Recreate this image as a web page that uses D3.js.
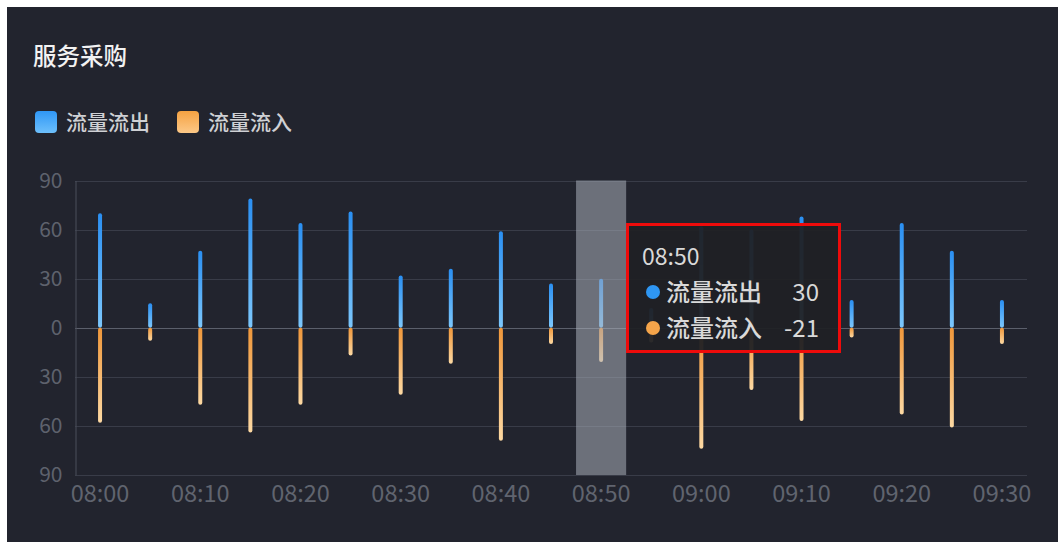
<!DOCTYPE html>
<html>
<head>
<meta charset="utf-8">
<script src="https://cdn.jsdelivr.net/npm/d3@7"></script>
<style>
  html, body { margin: 0; padding: 0; background: #ffffff; }
  svg { display: block; }
  text { font-family: "Noto Sans CJK SC", "Noto Sans", sans-serif; }
</style>
</head>
<body>
<svg id="chart" width="1058" height="542"></svg>
<script>
// Five-minute time slots
const categories = ["08:00","08:05","08:10","08:15","08:20","08:25","08:30","08:35","08:40","08:45",
                    "08:50","08:55","09:00","09:05","09:10","09:15","09:20","09:25","09:30"];
// Outbound traffic (positive side)
const outflow = [70, 15, 47, 79, 64, 71, 32, 36, 59, 27, 30, 12, 62, 60, 68, 17, 64, 47, 17];
// Inbound traffic (negative side)
const inflow  = [-58, -8, -47, -64, -47, -17, -41, -22, -69, -10, -21, -9, -74, -38, -57, -6, -53, -61, -10];
const seriesNames = ["流量流出", "流量流入"];
const yTicks = [-90, -60, -30, 0, 30, 60, 90];
const xTickLabels = ["08:00","08:10","08:20","08:30","08:40","08:50","09:00","09:10","09:20","09:30"];
const activeSlot = "08:50";

const svg = d3.select("#chart");
const W = 1058, H = 542;

// card background
svg.append("rect").attr("x", 7).attr("y", 7).attr("width", W - 7).attr("height", H - 7)
  .attr("fill", "#22242e");

const defs = svg.append("defs");
function vGrad(id, top, bottom) {
  const g = defs.append("linearGradient").attr("id", id)
    .attr("x1", 0).attr("y1", 0).attr("x2", 0).attr("y2", 1);
  g.append("stop").attr("offset", "0%").attr("stop-color", top);
  g.append("stop").attr("offset", "100%").attr("stop-color", bottom);
}
vGrad("gOut", "#2a8ff2", "#7cc7fc");
vGrad("gIn", "#f0973a", "#fdd9a3");
vGrad("gOutLeg", "#2f97f6", "#6dbffb");
vGrad("gInLeg", "#f5a242", "#fcc887");

// title
svg.append("text").attr("x", 33).attr("y", 65)
  .attr("font-size", 23.5).attr("fill", "#f2f2f2").attr("font-weight", 500)
  .text("服务采购");

// legend
const legend = svg.append("g");
const legendItems = [
  { name: seriesNames[0], fill: "url(#gOutLeg)", x: 35 },
  { name: seriesNames[1], fill: "url(#gInLeg)", x: 177 }
];
legendItems.forEach(d => {
  legend.append("rect").attr("x", d.x).attr("y", 111).attr("width", 22).attr("height", 22)
    .attr("rx", 4).attr("fill", d.fill);
  legend.append("text").attr("x", d.x + 31).attr("y", 130)
    .attr("font-size", 21).attr("fill", "#cfd0d4").attr("font-weight", 500)
    .text(d.name);
});

// scales
const x = d3.scaleBand().domain(categories).range([75, 1027]);
const y = d3.scaleLinear().domain([-90, 90]).range([475, 180.5]);

// grid lines
svg.append("g").selectAll("line").data(yTicks).join("line")
  .attr("x1", 75).attr("x2", 1027)
  .attr("y1", d => Math.round(y(d)) + 0.5).attr("y2", d => Math.round(y(d)) + 0.5)
  .attr("stroke", d => d === 0 ? "#5b5f6b" : "#393c48").attr("stroke-width", 1);

// y axis
const yAxis = svg.append("g").attr("transform", "translate(75.5,0)")
  .call(d3.axisLeft(y).tickValues(yTicks).tickSize(0).tickPadding(13).tickFormat(d => Math.abs(d)));
yAxis.select(".domain").attr("stroke", "#4a4e5a");
yAxis.selectAll("text").attr("font-size", 21).attr("fill", "#5e626d")
  .attr("font-family", "\"Noto Sans CJK SC\", sans-serif");

// x axis labels
const xAxis = svg.append("g").attr("transform", "translate(0,475)")
  .call(d3.axisBottom(x).tickValues(xTickLabels).tickSize(0).tickPadding(10));
xAxis.select(".domain").remove();
xAxis.selectAll("text").attr("font-size", 23.5).attr("fill", "#60646f")
  .attr("font-family", "\"Noto Sans CJK SC\", sans-serif");

// bars
const barW = 4;
const bars = svg.append("g");
bars.selectAll("rect.out").data(categories).join("rect").attr("class", "out")
  .attr("x", d => x(d) + x.bandwidth() / 2 - barW / 2)
  .attr("width", barW)
  .attr("y", (d, i) => y(outflow[i]))
  .attr("height", (d, i) => y(0) - y(outflow[i]))
  .attr("rx", 2)
  .attr("fill", "url(#gOut)");
bars.selectAll("rect.in").data(categories).join("rect").attr("class", "in")
  .attr("x", d => x(d) + x.bandwidth() / 2 - barW / 2)
  .attr("width", barW)
  .attr("y", y(0))
  .attr("height", (d, i) => y(inflow[i]) - y(0))
  .attr("rx", 2)
  .attr("fill", "url(#gIn)");

// hover band over the active slot
svg.append("rect")
  .attr("x", x(activeSlot)).attr("width", x.bandwidth())
  .attr("y", y(90)).attr("height", y(-90) - y(90))
  .attr("fill", "rgba(170,174,186,0.55)");

// tooltip
const ai = categories.indexOf(activeSlot);
const tip = svg.append("g").attr("transform", "translate(626,223)");
tip.append("rect").attr("x", 1.5).attr("y", 1.5).attr("width", 212).attr("height", 127)
  .attr("fill", "rgba(32,33,37,0.95)").attr("stroke", "#ee0b0b").attr("stroke-width", 3);
tip.append("text").attr("x", 16).attr("y", 42).attr("font-size", 23).attr("fill", "#d9d9d9")
  .text(activeSlot);
const rows = [
  { name: seriesNames[0], color: "#2e96f3", v: outflow[ai] },
  { name: seriesNames[1], color: "#f4a44a", v: inflow[ai] }
];
rows.forEach((r, k) => {
  const cy = 69 + k * 36;
  tip.append("circle").attr("cx", 27).attr("cy", cy).attr("r", 7).attr("fill", r.color);
  tip.append("text").attr("x", 40).attr("y", cy + 9).attr("font-size", 24).attr("fill", "#d9d9d9")
    .attr("font-weight", 500).text(r.name);
  tip.append("text").attr("x", 193).attr("y", cy + 9).attr("font-size", 24).attr("fill", "#d9d9d9")
    .attr("text-anchor", "end").text(r.v);
});
</script>
</body>
</html>
